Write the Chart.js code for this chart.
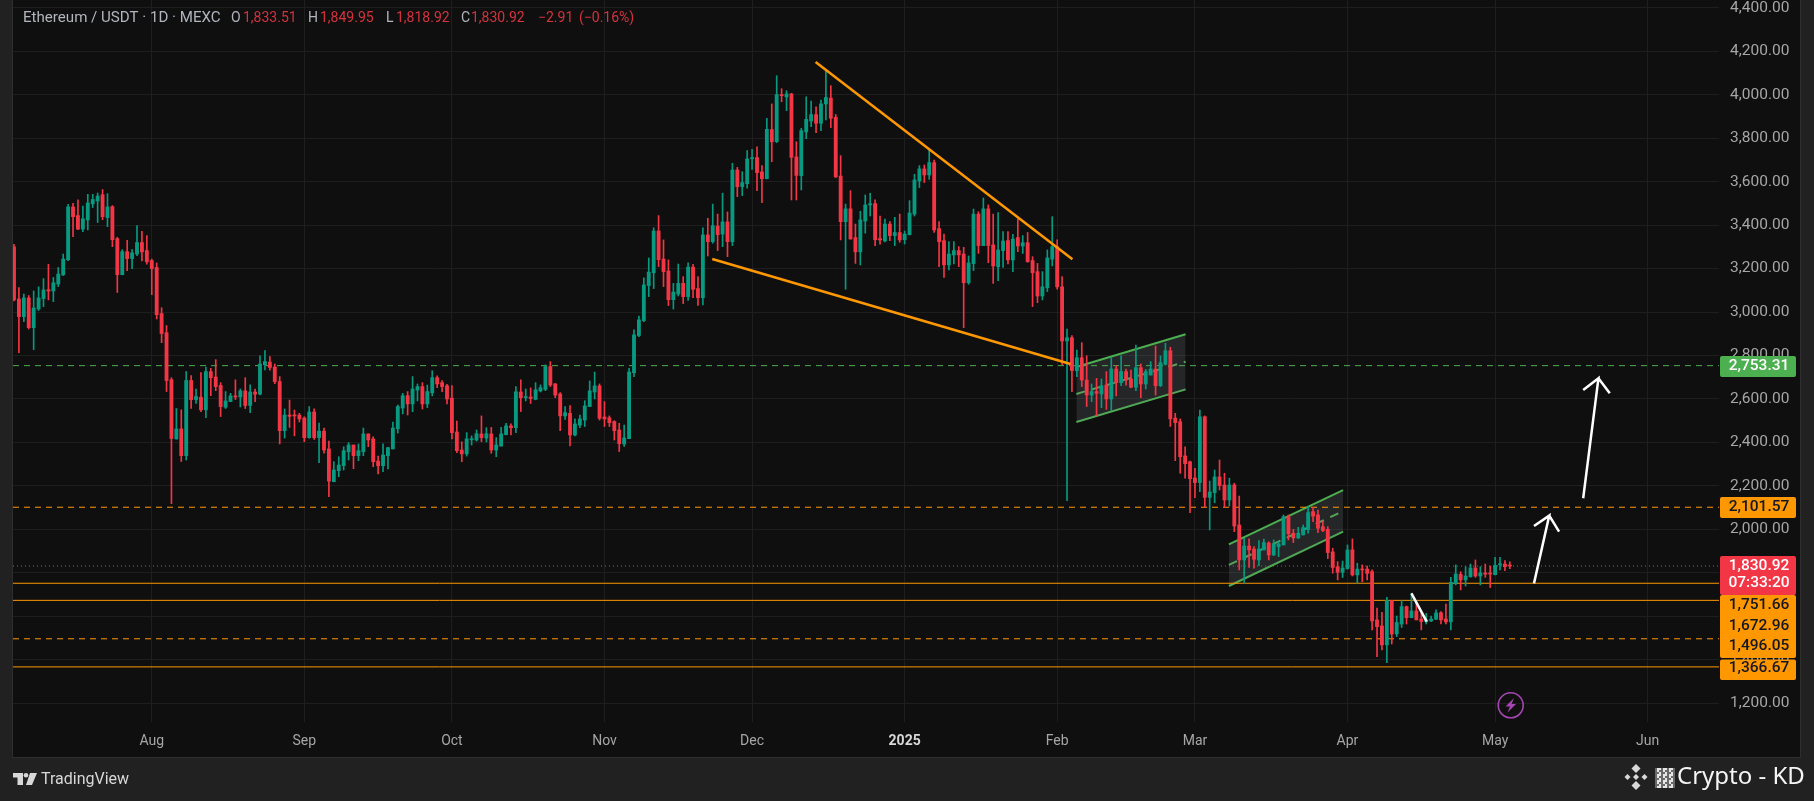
<!DOCTYPE html>
<html lang="en">
<head>
    <meta charset="UTF-8">
    <title>Ethereum / USDT 1D</title>
    <script src="https://cdn.jsdelivr.net/npm/chart.js"></script>
    <style>
        html, body { margin: 0; padding: 0; background: #212121; overflow: hidden; }
        canvas { display: block; }
    </style>
</head>
<body>
<canvas id="ethChart" width="1814" height="801"></canvas>

<script>
    // Daily candles, first one is 4 Jul 2024 (day -28 counted from 1 Aug 2024)
    const firstDay = -28;
    const opens = [
        3300,3060,2979,3065,2928,3014,3062,3103,3097,3129,
        3171,3241,3484,3444,3382,3424,3498,3511,3540,3435,
        3485,3338,3172,3278,3246,3267,3320,3283,3237,3205,
        2993,2905,2689,2416,2462,2339,2685,2597,2608,2550,
        2726,2701,2662,2562,2588,2614,2609,2637,2570,2632,
        2622,2757,2770,2747,2680,2454,2526,2526,2526,2512,
        2422,2540,2422,2452,2370,2219,2270,2293,2357,2388,
        2339,2357,2439,2416,2314,2293,2339,2370,2463,2558,
        2615,2577,2641,2657,2577,2629,2698,2675,2661,2604,
        2448,2365,2347,2412,2411,2439,2420,2439,2365,2383,
        2436,2476,2468,2632,2606,2609,2598,2637,2644,2749,
        2669,2623,2522,2534,2434,2480,2503,2565,2632,2660,
        2517,2513,2496,2457,2393,2417,2721,2892,2961,3122,
        3181,3373,3244,3189,3057,3083,3132,3071,3207,3108,
        3066,3355,3324,3396,3359,3415,3324,3654,3577,3591,
        3706,3711,3645,3614,3840,3784,4001,3990,4004,3714,
        3628,3829,3879,3909,3869,3958,3985,3896,3626,3416,
        3475,3343,3277,3419,3493,3499,3338,3327,3405,3352,
        3366,3333,3356,3451,3603,3659,3631,3688,3384,3329,
        3217,3263,3283,3267,3135,3223,3451,3306,3475,3309,
        3209,3283,3329,3240,3343,3304,3319,3237,3186,3074,
        3112,3244,3301,3116,2867,2882,2730,2790,2687,2618,
        2634,2623,2664,2600,2738,2675,2726,2692,2654,2744,
        2669,2710,2738,2661,2759,2822,2512,2495,2338,2311,
        2236,2215,2518,2147,2169,2241,2204,2135,2204,2020,
        1859,1923,1909,1859,1905,1937,1882,1920,1928,2058,
        1982,1960,1974,1999,2081,2066,2012,2000,1896,1828,
        1802,1819,1905,1790,1817,1817,1805,1583,1555,1468,
        1672,1518,1564,1644,1593,1624,1587,1575,1578,1586,
        1616,1587,1574,1751,1793,1767,1782,1822,1785,1799,
        1799,1791,1837,1840,1833.51
    ];
    const highs = [
        3312,3113,3083,3076,3097,3116,3154,3220,3159,3205,
        3267,3496,3501,3517,3488,3542,3542,3548,3564,3545,
        3490,3344,3287,3330,3287,3398,3372,3352,3244,3226,
        3020,2938,2698,2556,2550,2726,2708,2646,2721,2747,
        2741,2781,2675,2634,2626,2688,2646,2698,2665,2646,
        2798,2823,2795,2761,2703,2554,2595,2549,2534,2518,
        2565,2554,2489,2466,2406,2311,2334,2380,2399,2388,
        2393,2466,2439,2426,2337,2393,2377,2494,2572,2626,
        2634,2703,2669,2675,2664,2730,2707,2684,2667,2661,
        2498,2403,2445,2430,2457,2522,2468,2469,2422,2469,
        2488,2485,2657,2688,2646,2651,2675,2665,2757,2772,
        2672,2629,2565,2569,2508,2526,2592,2683,2724,2669,
        2588,2522,2500,2488,2480,2741,2918,2982,3157,3249,
        3388,3444,3332,3240,3132,3221,3163,3227,3220,3163,
        3388,3432,3497,3451,3547,3461,3685,3666,3646,3743,
        3749,3761,3674,3892,3958,4088,4028,4019,4007,3784,
        3846,3991,3971,3945,3976,4114,4042,3909,3720,3497,
        3559,3405,3464,3539,3547,3516,3442,3428,3416,3436,
        3451,3373,3513,3634,3674,3677,3746,3700,3416,3359,
        3324,3324,3301,3298,3258,3474,3462,3525,3493,3451,
        3458,3370,3370,3358,3428,3352,3366,3255,3224,3186,
        3286,3439,3332,3163,2922,2892,2825,2859,2799,2669,
        2695,2692,2726,2792,2753,2798,2738,2733,2848,2761,
        2736,2772,2844,2798,2856,2838,2534,2508,2380,2314,
        2281,2549,2522,2222,2273,2319,2258,2235,2212,2153,
        1959,1956,1920,1948,1955,1943,1951,1943,2066,2066,
        2000,2009,2020,2104,2101,2089,2038,2012,1913,1851,
        1854,1928,1956,1844,1836,1831,1813,1637,1618,1687,
        1672,1601,1672,1647,1706,1663,1613,1613,1601,1629,
        1621,1656,1779,1836,1805,1828,1840,1859,1828,1840,
        1831,1871,1871,1856,1849.95
    ];
    const lows = [
        3051,2813,2956,2922,2827,3007,3025,3056,3048,3117,
        3168,3237,3347,3379,3370,3378,3481,3412,3425,3393,
        3301,3090,3171,3191,3200,3260,3235,3220,3080,2968,
        2859,2634,2118,2415,2312,2319,2556,2580,2542,2514,
        2615,2638,2519,2556,2588,2597,2563,2556,2537,2588,
        2619,2734,2733,2670,2393,2420,2469,2430,2494,2403,
        2419,2414,2307,2350,2150,2219,2242,2273,2319,2279,
        2316,2339,2380,2288,2255,2265,2278,2370,2443,2531,
        2526,2541,2591,2554,2560,2614,2652,2634,2577,2416,
        2353,2311,2337,2388,2406,2403,2402,2350,2334,2383,
        2434,2434,2445,2542,2591,2579,2596,2632,2638,2657,
        2606,2454,2506,2384,2430,2468,2473,2565,2600,2503,
        2473,2473,2411,2358,2381,2417,2703,2887,2956,3071,
        3108,3209,3117,3030,3014,3074,3039,3053,3066,3030,
        3033,3258,3317,3283,3301,3255,3306,3531,3536,3570,
        3657,3559,3504,3613,3692,3780,3968,3927,3516,3516,
        3562,3798,3853,3826,3835,3884,3849,3619,3332,3105,
        3336,3224,3217,3363,3442,3306,3312,3323,3329,3306,
        3321,3313,3355,3442,3573,3596,3611,3366,3209,3159,
        3194,3221,3209,2928,3128,3191,3270,3306,3227,3132,
        3145,3205,3221,3186,3278,3270,3229,3025,3043,3056,
        3094,3212,3105,2757,2132,2634,2703,2657,2565,2588,
        2522,2560,2552,2546,2614,2661,2664,2652,2638,2606,
        2646,2710,2618,2657,2756,2473,2316,2258,2235,2077,
        2146,2173,2101,1997,2122,2181,2101,2107,1989,1813,
        1752,1825,1821,1833,1905,1859,1879,1874,1928,1951,
        1939,1958,1974,1982,2035,1985,1989,1865,1798,1767,
        1778,1816,1785,1752,1759,1767,1537,1414,1445,1386,
        1472,1506,1548,1564,1593,1583,1537,1564,1575,1584,
        1564,1564,1537,1744,1721,1739,1779,1779,1744,1779,
        1732,1790,1813,1810,1818.92
    ];
    const closes = [
        3056,2979,3065,2928,3019,3065,3102,3097,3135,3175,
        3244,3484,3439,3382,3429,3502,3518,3534,3439,3484,
        3333,3172,3278,3246,3272,3320,3277,3231,3200,2988,
        2901,2685,2418,2462,2339,2685,2597,2611,2550,2726,
        2698,2657,2565,2591,2614,2609,2637,2570,2632,2622,
        2761,2772,2745,2680,2454,2526,2520,2522,2508,2422,
        2540,2422,2452,2365,2222,2273,2296,2362,2388,2339,
        2362,2439,2411,2311,2293,2342,2376,2466,2565,2615,
        2577,2646,2657,2577,2634,2698,2669,2657,2600,2445,
        2362,2347,2416,2417,2440,2422,2440,2365,2388,2439,
        2476,2468,2633,2606,2611,2602,2642,2652,2749,2664,
        2618,2522,2537,2434,2485,2508,2568,2637,2660,2511,
        2508,2491,2454,2394,2421,2724,2895,2964,3125,3184,
        3373,3241,3186,3057,3092,3132,3071,3207,3105,3066,
        3355,3324,3398,3356,3415,3324,3654,3577,3596,3705,
        3711,3642,3614,3841,3784,4001,3996,4004,3712,3629,
        3835,3887,3909,3869,3958,3988,3892,3622,3416,3475,
        3336,3277,3424,3493,3499,3333,3332,3405,3352,3366,
        3332,3359,3456,3608,3659,3631,3688,3378,3324,3217,
        3267,3283,3263,3135,3226,3451,3306,3475,3306,3212,
        3286,3327,3240,3336,3304,3319,3232,3181,3074,3116,
        3249,3301,3116,2867,2882,2731,2790,2687,2618,2634,
        2626,2661,2600,2738,2675,2726,2687,2654,2744,2669,
        2726,2738,2661,2767,2822,2508,2491,2334,2302,2233,
        2215,2518,2147,2172,2241,2201,2135,2204,2015,1859,
        1923,1905,1862,1909,1939,1882,1933,1933,2058,1979,
        1960,1982,2008,2077,2061,2005,1994,1893,1824,1802,
        1822,1905,1790,1817,1813,1797,1578,1552,1468,1672,
        1518,1571,1644,1593,1624,1583,1575,1583,1587,1615,
        1583,1574,1756,1794,1767,1785,1822,1785,1799,1794,
        1794,1834,1840,1828,1830.92
    ];

    // Month labels on the time axis (days since 1 Aug 2024)
    const monthDays = [0, 31, 61, 92, 122, 153, 184, 212, 243, 273, 304];
    const monthLabels = ['Aug', 'Sep', 'Oct', 'Nov', 'Dec', '2025', 'Feb', 'Mar', 'Apr', 'May', 'Jun'];

    // Horizontal levels
    const greenLevel = 2753.31;
    const dashedLevels = [2101.57, 1496.05];
    const solidLevels = [1751.66, 1672.96, 1366.67];
    const lastPrice = 1830.92;

    // Drawn trend lines, channels and arrows: [days], [prices]
    const wedgeTopDays = [134.9, 187.1],       wedgeTopPrices = [4151, 3243];
    const wedgeBottomDays = [113.9, 186.7],    wedgeBottomPrices = [3244, 2761];
    const channelOneDays = [187.9, 210.1];
    const channelOneTop = [2747, 2898],        channelOneMid = [2623, 2771],      channelOneBottom = [2494, 2644];
    const channelTwoDays = [218.9, 242.1];
    const channelTwoTop = [1931, 2180],        channelTwoMid = [1836, 2084],      channelTwoBottom = [1739, 1989];
    const pullbackDays = [256, 259.1],         pullbackPrices = [1705, 1575];
    const arrowOneDays = [280.9, 284, 280.9, 284, 286],       arrowOnePrices = [1751, 2063, 2015, 2063, 1989];
    const arrowTwoDays = [290.9, 294, 290.9, 294, 296.3],     arrowTwoPrices = [2143, 2695, 2641, 2695, 2626];

    const UP = '#089981', DOWN = '#f23645', ORANGE = '#ff9800', GREEN = '#4caf50';
    const xMin = -28.2, xMax = 318.5;
    const fmt = v => v.toLocaleString('en-US', { minimumFractionDigits: 2, maximumFractionDigits: 2 });
    const zip = (xs, ys) => xs.map((x, i) => ({ x: x, y: ys[i] }));
    const isYearTick = c => c.tick && c.tick.value === 153;

    function levelLine(value, color, dash) {
        return {
            type: 'line', order: 3, data: zip([xMin, xMax], [value, value]),
            borderColor: color, borderWidth: 1, borderDash: dash, pointRadius: 0
        };
    }
    function drawnLine(xs, ys, color, width) {
        return {
            type: 'line', order: 0, data: zip(xs, ys),
            borderColor: color, borderWidth: width, pointRadius: 0, borderJoinStyle: 'miter'
        };
    }
    // channel: top line filled down to the bottom line (two datasets further), dashed mid line between
    function channel(days, top, mid, bottom) {
        const base = { type: 'line', order: 3, pointRadius: 0, borderColor: GREEN, borderWidth: 2 };
        return [
            { ...base, data: zip(days, top), fill: '+2', backgroundColor: 'rgba(120,123,134,0.22)' },
            { ...base, data: zip(days, mid), borderDash: [9, 7] },
            { ...base, data: zip(days, bottom) }
        ];
    }

    const candleColors = closes.map((c, i) => c >= opens[i] ? UP : DOWN);
    const days = closes.map((c, i) => firstDay + i);

    // Everything around the plot that TradingView puts on the screenshot
    const decorations = {
        id: 'decorations',
        beforeDraw(chart) {
            const ctx = chart.ctx;
            ctx.save();
            ctx.fillStyle = '#212121';
            ctx.fillRect(0, 0, 1814, 801);
            ctx.fillStyle = '#0f0f0f';
            ctx.fillRect(13, 0, 1787, 757);
            ctx.strokeStyle = '#2e2e2e';
            ctx.lineWidth = 1;
            ctx.strokeRect(12.5, -2, 1788, 759.5);
            ctx.restore();
        },
        afterDraw(chart) {
            const ctx = chart.ctx;
            const font = 'Roboto';
            ctx.save();
            ctx.textBaseline = 'middle';

            // header
            const gray = '#b2b5be', red = '#d5323e';
            const header = [
                ['O', 231, gray], ['1,833.51', 243, red],
                ['H', 308, gray], ['1,849.95', 320, red], ['L', 386, gray], ['1,818.92', 396, red],
                ['C', 461, gray], ['1,830.92', 471, red], ['−2.91', 538, red], ['(−0.16%)', 579, red]
            ];
            ctx.textAlign = 'left';
            ctx.font = '15.1px ' + font;
            ctx.fillStyle = gray;
            ctx.fillText('Ethereum / USDT · 1D · MEXC', 23, 18.5);
            ctx.font = '14px ' + font;
            header.forEach(h => { ctx.fillStyle = h[2]; ctx.fillText(h[0], h[1], 18.5); });

            // price tags on the axis
            function box(y0, y1, bg) {
                ctx.fillStyle = bg;
                ctx.beginPath();
                ctx.roundRect(1720, y0, 76, y1 - y0, 2);
                ctx.fill();
            }
            function tagText(text, y, color) {
                ctx.fillStyle = color;
                ctx.font = '500 15.5px ' + font;
                ctx.textAlign = 'center';
                ctx.fillText(text, 1759, y);
            }
            box(356, 377, GREEN);
            tagText(fmt(greenLevel), 366.5, '#ffffff');
            box(497, 518, ORANGE);
            tagText(fmt(dashedLevels[0]), 507.5, '#131722');
            box(595, 658, ORANGE);
            tagText(fmt(solidLevels[0]), 605, '#131722');
            tagText(fmt(solidLevels[1]), 626, '#131722');
            tagText(fmt(dashedLevels[1]), 646, '#131722');
            box(659.5, 680, ORANGE);
            tagText(fmt(solidLevels[2]), 668.5, '#131722');
            box(556, 595, DOWN);
            tagText(fmt(lastPrice), 566, '#ffffff');
            tagText('07:33:20', 583, '#ffffff');

            // purple lightning badge
            ctx.strokeStyle = '#a845b5';
            ctx.lineWidth = 1.6;
            ctx.beginPath();
            ctx.arc(1510.7, 705.3, 12.5, 0, Math.PI * 2);
            ctx.stroke();
            ctx.fillStyle = '#a845b5';
            ctx.beginPath();
            [[1514, 698], [1505.5, 706.5], [1510, 706.5], [1507.5, 712.5], [1516, 704], [1511.5, 704]]
                .forEach((p, i) => i ? ctx.lineTo(p[0], p[1]) : ctx.moveTo(p[0], p[1]));
            ctx.closePath();
            ctx.fill();

            // TradingView logo and name
            ctx.fillStyle = '#d8d8d8';
            ctx.fillRect(13, 773, 10, 4.5);
            ctx.fillRect(17.5, 773, 5.5, 12);
            ctx.beginPath();
            ctx.arc(26, 775.2, 2.3, 0, Math.PI * 2);
            ctx.fill();
            ctx.beginPath();
            ctx.moveTo(30, 773); ctx.lineTo(37, 773); ctx.lineTo(32, 785); ctx.lineTo(26, 785);
            ctx.closePath();
            ctx.fill();
            ctx.font = '16px ' + font;
            ctx.textAlign = 'left';
            ctx.fillStyle = '#d8d8d8';
            ctx.fillText('TradingView', 41, 780);

            // channel watermark at the bottom right
            ctx.fillStyle = '#d9d9d9';
            const cx = 1636, cy = 777;
            [[0, -8.5, 4.5], [-8.5, 0, 3], [8.5, 0, 3], [0, 0, 3], [0, 8.5, 4.5]].forEach(d => {
                ctx.beginPath();
                ctx.moveTo(cx + d[0], cy + d[1] - d[2]);
                ctx.lineTo(cx + d[0] + d[2], cy + d[1]);
                ctx.lineTo(cx + d[0], cy + d[1] + d[2]);
                ctx.lineTo(cx + d[0] - d[2], cy + d[1]);
                ctx.closePath();
                ctx.fill();
            });
            for (let i = 0; i < 10; i++) {
                for (let j = 0; j < 10; j++) {
                    ctx.fillStyle = (i * i + j * 3 + i * j) % 3 ? '#e6e6e6' : '#6a6a6a';
                    ctx.fillRect(1655 + i * 2, 768 + j * 2, 2, 2);
                }
            }
            ctx.font = '24px "Noto Sans"';
            ctx.fillStyle = '#f5f5f5';
            ctx.fillText('Crypto - KD', 1677, 777);
            ctx.restore();
        }
    };

    new Chart(document.getElementById('ethChart').getContext('2d'), {
        type: 'bar',
        data: {
            datasets: [
                levelLine(greenLevel, GREEN, [6, 5]),
                ...dashedLevels.map(v => levelLine(v, ORANGE, [6, 5])),
                ...solidLevels.map(v => levelLine(v, ORANGE, [])),
                levelLine(lastPrice, DOWN, [1, 3]),
                ...channel(channelOneDays, channelOneTop, channelOneMid, channelOneBottom),
                ...channel(channelTwoDays, channelTwoTop, channelTwoMid, channelTwoBottom),
                {
                    // wicks
                    order: 2, grouped: false, barThickness: 1,
                    data: days.map((d, i) => ({ x: d, y: [lows[i], highs[i]] })),
                    backgroundColor: candleColors
                },
                {
                    // bodies
                    order: 1, grouped: false, barThickness: 3.2, minBarLength: 1,
                    data: days.map((d, i) => ({ x: d, y: [opens[i], closes[i]] })),
                    backgroundColor: candleColors
                },
                drawnLine(wedgeTopDays, wedgeTopPrices, ORANGE, 2.5),
                drawnLine(wedgeBottomDays, wedgeBottomPrices, ORANGE, 2.5),
                drawnLine(pullbackDays, pullbackPrices, '#ffffff', 2.5),
                drawnLine(arrowOneDays, arrowOnePrices, '#ffffff', 2.5),
                drawnLine(arrowTwoDays, arrowTwoPrices, '#ffffff', 2.5)
            ]
        },
        options: {
            responsive: false,
            animation: false,
            devicePixelRatio: 1,
            layout: { autoPadding: false, padding: { left: 13, right: 14, top: 0, bottom: 44 } },
            plugins: { legend: { display: false }, tooltip: { enabled: false } },
            scales: {
                x: {
                    type: 'linear',
                    offset: false,
                    min: xMin,
                    max: xMax,
                    afterBuildTicks: axis => { axis.ticks = monthDays.map(d => ({ value: d })); },
                    afterFit: axis => { axis.height = 35; axis.paddingLeft = 0; axis.paddingRight = 0; },
                    grid: { color: '#1e1e1e', drawTicks: false, offset: false },
                    border: { display: false },
                    ticks: {
                        autoSkip: false,
                        maxRotation: 0,
                        padding: 11,
                        color: c => isYearTick(c) ? '#d8d8d8' : '#a6a6a6',
                        font: c => ({ family: 'Roboto', size: 14, weight: isYearTick(c) ? 'bold' : 'normal' }),
                        callback: v => monthLabels[monthDays.indexOf(v)]
                    }
                },
                y: {
                    position: 'right',
                    min: 1113,
                    max: 4436.4,
                    // no room for half a label above the first tick: the pane runs to the top edge
                    afterFit: axis => { axis.width = 81; axis.paddingTop = 0; axis.paddingBottom = 0; },
                    grid: { color: '#1e1e1e', drawTicks: false },
                    border: { display: false },
                    ticks: {
                        stepSize: 200,
                        includeBounds: false,
                        padding: 11,
                        color: '#a6a6a6',
                        font: { family: 'Roboto', size: 15.5 },
                        callback: v => fmt(v)
                    }
                }
            }
        },
        plugins: [decorations]
    });
</script>
</body>
</html>
